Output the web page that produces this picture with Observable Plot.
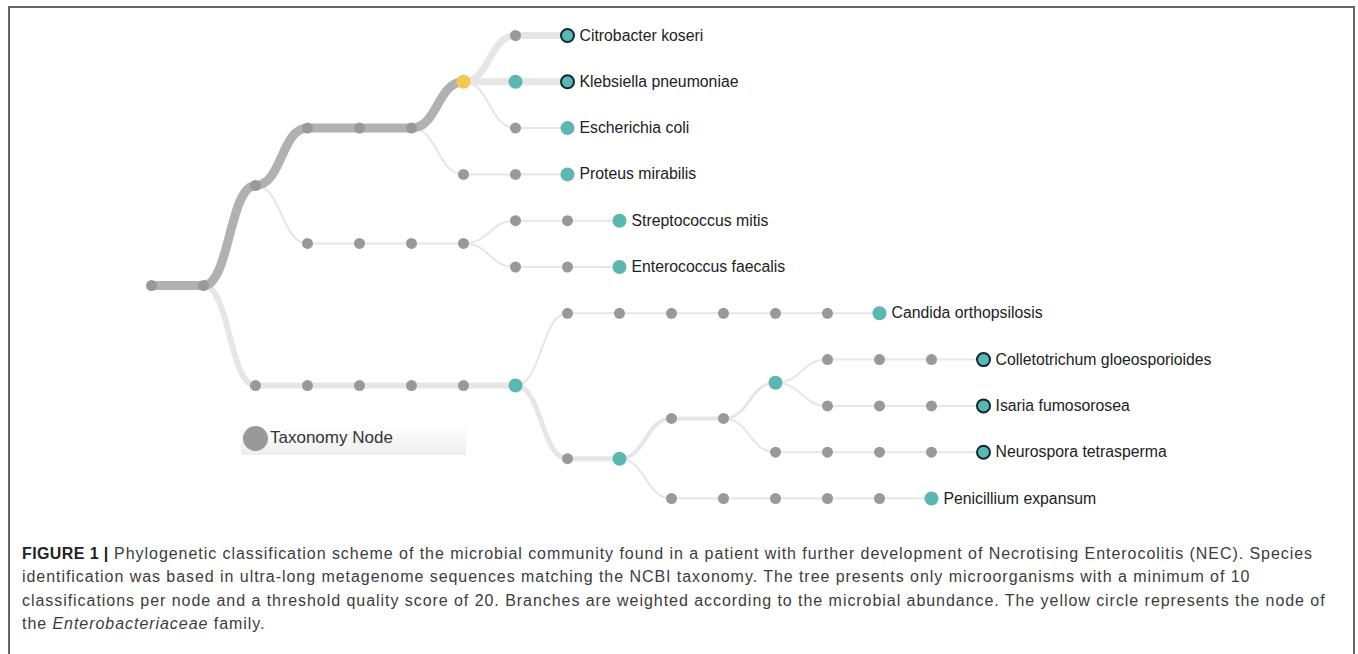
<!DOCTYPE html>
<html>
<head>
<meta charset="utf-8">
<script src="https://cdn.jsdelivr.net/npm/d3@7"></script>
<script src="https://cdn.jsdelivr.net/npm/@observablehq/plot@0.6"></script>
<style>
  html, body { margin: 0; padding: 0; background: #fff; }
  #page { position: relative; width: 1358px; height: 654px; overflow: hidden; }
  #frame { position: absolute; left: 8px; top: 6px; width: 1347px; height: 700px;
           border: 2px solid #666; border-bottom: none; box-sizing: border-box; }
  #chart { position: absolute; left: 0; top: 0; }
  #legend { position: absolute; left: 241px; top: 424px; width: 225px; height: 31px;
            background: linear-gradient(#ffffff, #eeeeee); }
  #legend .dot { position: absolute; left: 2px; top: 2px; width: 25px; height: 25px; border-radius: 50%; background: #999; }
  #legend .lab { position: absolute; left: 29px; top: 4px; font: 17px "Liberation Sans", Arial, sans-serif; color: #333; }
  #caption { position: absolute; left: 22px; top: 542px; font: 16px "Liberation Sans", Arial, sans-serif;
             letter-spacing: 0.95px; line-height: 23.4px; color: #3c3c3c; white-space: nowrap; }
  #caption b { font-weight: 700; color: #222; letter-spacing: 0.4px; }
</style>
</head>
<body>
<div id="page">
  <div id="frame"></div>
  <div id="chart"></div>
  <div id="legend"><div class="dot"></div><div class="lab">Taxonomy Node</div></div>
  <div id="caption"></div>
</div>
<script>
// ---- Tree data (node id = index) ----
// parent index of each node (-1 = root)
const parents = [
  -1, 0, 1, 2, 3, 4, 5,                 // 0-6 root chain, 6 = Enterobacteriaceae
  6, 7, 6, 9, 6, 11,                    // 7-12 Citrobacter, Klebsiella, E. coli
  5, 13, 14,                            // 13-15 Proteus
  2, 16, 17, 18, 19, 20, 21, 19, 23, 24, // 16-25 Streptococcus, Enterococcus
  1, 26, 27, 28, 29, 30,                // 26-31 fungal branch
  31, 32, 33, 34, 35, 36, 37,           // 32-38 Candida
  31, 39, 40, 41, 42,                   // 39-43
  43, 44, 45, 46,                       // 44-47 Colletotrichum
  43, 48, 49, 50,                       // 48-51 Isaria
  42, 52, 53, 54, 55,                   // 52-56 Neurospora
  40, 57, 58, 59, 60, 61                // 57-62 Penicillium
];
// taxonomic depth (column) of each node
const depths = [
  0, 1, 2, 3, 4, 5, 6,
  7, 8, 7, 8, 7, 8,
  6, 7, 8,
  3, 4, 5, 6, 7, 8, 9, 7, 8, 9,
  2, 3, 4, 5, 6, 7,
  8, 9, 10, 11, 12, 13, 14,
  8, 9, 10, 11, 12,
  13, 14, 15, 16,
  13, 14, 15, 16,
  12, 13, 14, 15, 16,
  10, 11, 12, 13, 14, 15
];
// vertical row position of each node
const rows = [
  5.4, 5.4, 3.24, 2, 2, 2, 1,
  0, 0, 1, 1, 2, 2,
  3, 3, 3,
  4.49, 4.49, 4.49, 4.49, 4, 4, 4, 5, 5, 5,
  7.56, 7.56, 7.56, 7.56, 7.56, 7.56,
  6, 6, 6, 6, 6, 6, 6,
  9.14, 9.14, 8.27, 8.27, 7.5,
  7, 7, 7, 7,
  8, 8, 8, 8,
  9, 9, 9, 9, 9,
  10, 10, 10, 10, 10, 10
];
// node kind: g = taxonomy node, t = teal node, y = Enterobacteriaceae, s = outlined species
const kinds = [
  "g","g","g","g","g","g","y",
  "g","s","t","s","g","t",
  "g","g","t",
  "g","g","g","g","g","g","t","g","g","t",
  "g","g","g","g","g","t",
  "g","g","g","g","g","g","t",
  "g","t","g","g","t",
  "g","g","g","s",
  "g","g","g","s",
  "g","g","g","g","s",
  "g","g","g","g","g","t"
];
// abundance weight of the branch leading to each node
const weights = [
  0, 9, 9, 9, 9, 9, 9,
  7, 7, 7, 7, 2, 2,
  2, 2, 2,
  2, 2, 2, 2, 2, 2, 2, 2, 2, 2,
  6, 6, 6, 6, 6, 6,
  2, 2, 2, 2, 2, 2, 2,
  5, 5, 4, 4, 3,
  2, 2, 2, 2,
  2, 2, 2, 2,
  2, 2, 2, 2, 2,
  2, 2, 2, 2, 2, 2
];
// leaf labels, top to bottom
const leafNames = [
  "Citrobacter koseri", "Klebsiella pneumoniae", "Escherichia coli", "Proteus mirabilis",
  "Streptococcus mitis", "Enterococcus faecalis", "Candida orthopsilosis",
  "Colletotrichum gloeosporioides", "Isaria fumosorosea", "Neurospora tetrasperma", "Penicillium expansum"
];

const nodes = parents.map((p, i) => ({id: i, parent: p, x: depths[i], y: rows[i], kind: kinds[i], w: weights[i]}));
const hasChild = new Set(parents.filter(p => p >= 0));
const leaves = nodes.filter(n => !hasChild.has(n.id)).sort((a, b) => a.y - b.y);
leaves.forEach((n, i) => n.label = leafNames[i]);

const links = nodes.filter(n => n.parent >= 0).map(n => {
  const p = nodes[n.parent];
  return {x1: p.x, y1: p.y, x2: n.x, y2: n.y, w: n.w,
          color: n.w >= 8 ? "#b1b1b1" : "#e6e6e6"};
}).sort((a, b) => a.w - b.w);

const teal = "#5bb8b0";
const chart = Plot.plot({
  width: 1358,
  height: 520,
  margin: 0,
  x: {domain: [0, 16], range: [151, 983], axis: null},
  y: {domain: [0, 10], range: [35, 498], axis: null},
  style: {background: "transparent", fontFamily: "'Liberation Sans', Arial, sans-serif"},
  marks: [
    Plot.link(links, {x1: "x1", y1: "y1", x2: "x2", y2: "y2", curve: "bump-x",
      stroke: "color", strokeWidth: "w", strokeLinecap: "butt"}),
    Plot.dot(nodes.filter(n => n.kind === "g"), {x: "x", y: "y", r: 5.5, fill: "#999999"}),
    Plot.dot(nodes.filter(n => n.kind === "t"), {x: "x", y: "y", r: 7, fill: teal}),
    Plot.dot(nodes.filter(n => n.kind === "y"), {x: "x", y: "y", r: 7, fill: "#f4c84f"}),
    Plot.dot(nodes.filter(n => n.kind === "s"), {x: "x", y: "y", r: 6.5, fill: teal, stroke: "#0c2a33", strokeWidth: 2}),
    Plot.text(leaves, {x: "x", y: "y", text: "label", dx: 12, textAnchor: "start",
      fontSize: 15.8, fill: "#222"})
  ]
});
document.getElementById("chart").appendChild(chart);

document.getElementById("caption").innerHTML =
  "<b>FIGURE 1 |</b> Phylogenetic classification scheme of the microbial community found in a patient with further development of Necrotising Enterocolitis (NEC). Species<br>" +
  "identification was based in ultra-long metagenome sequences matching the NCBI taxonomy. The tree presents only microorganisms with a minimum of 10<br>" +
  "classifications per node and a threshold quality score of 20. Branches are weighted according to the microbial abundance. The yellow circle represents the node of<br>" +
  "the <i>Enterobacteriaceae</i> family.";
</script>
</body>
</html>
